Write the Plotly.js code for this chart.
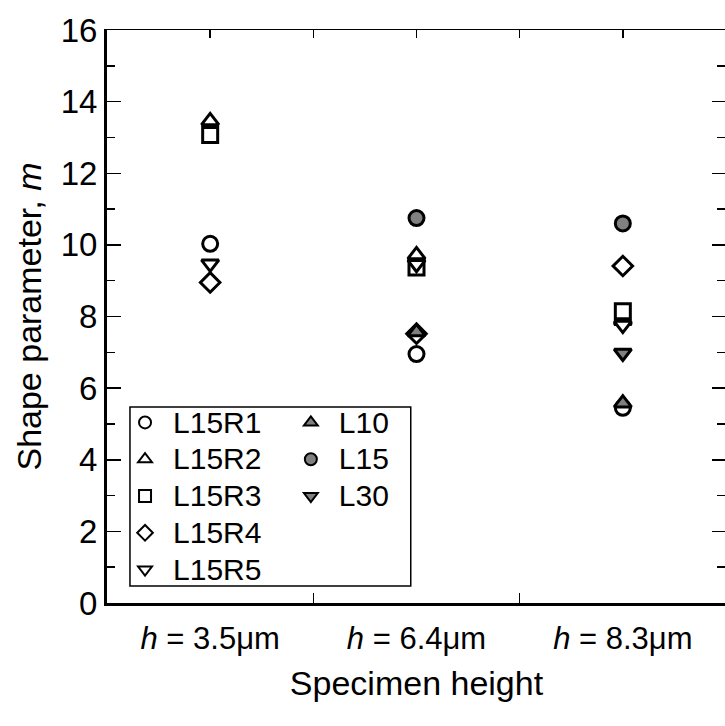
<!DOCTYPE html>
<html>
<head>
<meta charset="utf-8">
<script src="https://cdn.plot.ly/plotly-3.0.1.min.js"></script>
<style>
html, body { margin: 0; padding: 0; overflow: hidden; background: #fff; }
#chart { width: 730px; height: 726px; }
</style>
</head>
<body>
<div id="chart"></div>
<script>
// Categories (specimen heights) and tick labels
const categories = ['<i>h</i> = 3.5μm', '<i>h</i> = 6.4μm', '<i>h</i> = 8.3μm'];

// Shape parameter m per series (null = not shown)
const L15R1 = [10.03, 6.95, 5.45];
const L15R2 = [13.46, 9.72, 7.88];
const L15R3 = [13.07, 9.37, 8.15];
const L15R4 = [8.95, 7.52, 9.41];
const L15R5 = [9.47, 9.46, 7.76];
const L10 = [null, 7.57, 5.58];
const L15 = [null, 10.75, 10.60];
const L30 = [null, null, 6.98];

const yTickVals = [0, 2, 4, 6, 8, 10, 12, 14, 16];

const xPos = categories.map((_, i) => i);
const FONT = 'Liberation Sans, Arial, Helvetica, sans-serif';

function series(name, values, symbol, fill, legendId) {
  return {
    type: 'scatter', mode: 'markers',
    name: '<span style="font-size:30px">' + name + '</span>',
    x: xPos, y: values,
    legend: legendId,
    marker: { symbol: symbol, size: 15, color: fill, line: { color: '#000', width: 3 } },
    hoverinfo: 'x+y'
  };
}

const GRAY = '#808080';
const data = [
  series('L15R1', L15R1, 'circle', '#fff', 'legend'),
  series('L15R2', L15R2, 'triangle-up', '#fff', 'legend'),
  series('L15R3', L15R3, 'square', '#fff', 'legend'),
  series('L15R4', L15R4, 'diamond', '#fff', 'legend'),
  series('L15R5', L15R5, 'triangle-down', '#fff', 'legend'),
  series('L10', L10, 'triangle-up', GRAY, 'legend2'),
  series('L15', L15, 'circle', GRAY, 'legend2'),
  series('L30', L30, 'triangle-down', GRAY, 'legend2'),
  { type: 'scatter', x: [], y: [], xaxis: 'x2', yaxis: 'y', showlegend: false, hoverinfo: 'skip' },
  { type: 'scatter', x: [], y: [], xaxis: 'x3', yaxis: 'y2', showlegend: false, hoverinfo: 'skip' }
];

const xr = [-0.5, categories.length - 0.5];
const legendCommon = {
  bgcolor: 'rgba(0,0,0,0)', borderwidth: 0,
  font: { family: FONT, size: 26, color: '#000' },
  xanchor: 'left', yanchor: 'top',
  itemsizing: 'constant', itemwidth: 46, tracegroupgap: 0
};

const layout = {
  width: 730, height: 726,
  margin: { l: 107, r: 3.5, t: 30, b: 123 },
  paper_bgcolor: '#fff', plot_bgcolor: '#fff',
  font: { family: FONT, color: '#000' },
  showlegend: true,
  xaxis: {
    range: xr, tickvals: xPos, ticktext: categories,
    ticks: '', showgrid: false, zeroline: false,
    showline: true, linewidth: 3, linecolor: '#000',
    tickfont: { family: FONT, size: 31, color: '#000' },
    ticklabelstandoff: 6,
    title: { text: 'Specimen height', font: { family: FONT, size: 34, color: '#000' }, standoff: 16 },
    fixedrange: true
  },
  xaxis2: {
    overlaying: 'x', anchor: 'y', side: 'bottom', range: xr,
    tickvals: xPos.slice(1).map(v => v - 0.5),
    ticks: 'inside', ticklen: 10, tickwidth: 1.5, tickcolor: '#000',
    showticklabels: false, showgrid: false, zeroline: false, showline: false
  },
  xaxis3: {
    overlaying: 'x', anchor: 'y2', side: 'top', range: xr,
    tickvals: [0, 0.5, 1, 1.5, 2],
    ticks: 'inside', ticklen: 8, tickwidth: 1.5, tickcolor: '#000',
    showticklabels: false, showgrid: false, zeroline: false,
    showline: true, linewidth: 1.5, linecolor: '#000'
  },
  yaxis: {
    range: [0, 16], tickvals: yTickVals,
    ticks: 'inside', ticklen: 14, tickwidth: 1.5, tickcolor: '#000',
    minor: { dtick: 1, ticks: 'inside', ticklen: 8, tickwidth: 1.5, tickcolor: '#000', showgrid: false },
    showgrid: false, zeroline: false,
    showline: true, linewidth: 3, linecolor: '#000',
    tickfont: { family: FONT, size: 33, color: '#000' },
    title: { text: 'Shape parameter, <i>m</i>', font: { family: FONT, size: 34, color: '#000' }, standoff: 9 },
    fixedrange: true
  },
  yaxis2: {
    overlaying: 'y', anchor: 'x', side: 'right', range: [0, 16], tickvals: yTickVals,
    ticks: 'inside', ticklen: 14, tickwidth: 1.5, tickcolor: '#000',
    minor: { dtick: 1, ticks: 'inside', ticklen: 9, tickwidth: 1.5, tickcolor: '#000', showgrid: false },
    showticklabels: false, showgrid: false, zeroline: false,
    showline: true, linewidth: 1.5, linecolor: '#000'
  },
  legend: Object.assign({}, legendCommon, { x: 0.0162, y: 0.3560 }),
  legend2: Object.assign({}, legendCommon, { x: 0.2841, y: 0.3560 }),
  shapes: [{
    type: 'rect', xref: 'paper', yref: 'paper',
    x0: 0.0371, x1: 0.4907, y0: 0.0297, y1: 0.342,
    line: { color: '#000', width: 1.5 }, fillcolor: '#fff', layer: 'above'
  }]
};

Plotly.newPlot('chart', data, layout, { displayModeBar: false, staticPlot: true });
</script>
</body>
</html>
